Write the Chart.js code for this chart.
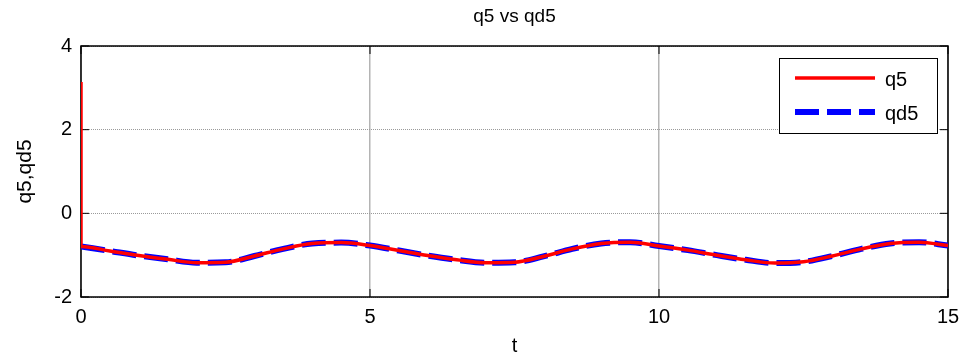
<!DOCTYPE html>
<html>
<head>
<meta charset="utf-8">
<script src="https://cdn.jsdelivr.net/npm/chart.js@4/dist/chart.umd.min.js"></script>
<style>
  html, body { margin: 0; padding: 0; background: #fff; }
  #wrap { width: 968px; height: 360px; }
</style>
</head>
<body>
<div id="wrap"><canvas id="chart" width="968" height="360"></canvas></div>
<script>
// time samples and values
const tValues = [0, 0.5, 1, 1.5, 2, 2.5, 3, 3.5, 4, 4.5, 5, 5.5, 6, 6.5, 7, 7.5,
  8, 8.5, 9, 9.5, 10, 10.5, 11, 11.5, 12, 12.5, 13, 13.5, 14, 14.5, 15];
const qd5Values = [-0.79, -0.90, -1.01, -1.10, -1.18, -1.17, -1.02, -0.85, -0.72, -0.70,
  -0.77, -0.89, -1.01, -1.11, -1.18, -1.17, -1.03, -0.85, -0.72, -0.69,
  -0.78, -0.88, -1.00, -1.11, -1.19, -1.16, -1.02, -0.85, -0.72, -0.69, -0.77];
const q5Start = 3.14; // q5 begins here at t = 0, then jumps onto qd5
const xTicks = [0, 5, 10, 15];
const yTicks = [-2, 0, 2, 4];

const qd5Points = tValues.map((t, i) => ({ x: t, y: qd5Values[i] }));
const q5Points = [{ x: 0, y: q5Start }].concat(qd5Points);

const FONT = 'Arial, "Liberation Sans", sans-serif';

// box + inward ticks, matlab style
const axesBox = {
  id: 'axesBox',
  beforeDatasetsDraw(chart) {
    const { ctx, chartArea: a, scales } = chart;
    ctx.save();
    ctx.strokeStyle = '#000';
    ctx.lineWidth = 1.5;
    ctx.strokeRect(a.left, a.top, a.right - a.left, a.bottom - a.top);
    ctx.lineWidth = 1;
    xTicks.forEach(v => {
      const x = scales.x.getPixelForValue(v);
      ctx.beginPath();
      ctx.moveTo(x, a.bottom); ctx.lineTo(x, a.bottom - 8);
      ctx.moveTo(x, a.top); ctx.lineTo(x, a.top + 8);
      ctx.stroke();
    });
    yTicks.forEach(v => {
      const y = scales.y.getPixelForValue(v);
      ctx.beginPath();
      ctx.moveTo(a.left, y); ctx.lineTo(a.left + 8, y);
      ctx.moveTo(a.right, y); ctx.lineTo(a.right - 8, y);
      ctx.stroke();
    });
    ctx.restore();
  }
};

// legend box in the top right corner
const boxLegend = {
  id: 'boxLegend',
  afterDraw(chart) {
    const { ctx, chartArea: a } = chart;
    const x0 = a.right - 169, y0 = a.top + 12, w = 158, h = 75;
    ctx.save();
    ctx.fillStyle = '#fff';
    ctx.fillRect(x0, y0, w, h);
    ctx.strokeStyle = '#000';
    ctx.lineWidth = 1;
    ctx.strokeRect(x0 + 0.5, y0 + 0.5, w, h);
    ctx.font = '20px ' + FONT;
    ctx.textBaseline = 'middle';
    ctx.fillStyle = '#000';
    chart.data.datasets.forEach((ds, i) => {
      const y = y0 + 20 + i * 34;
      ctx.beginPath();
      ctx.strokeStyle = ds.borderColor;
      ctx.lineWidth = ds.borderWidth;
      ctx.setLineDash(ds.borderDash || []);
      ctx.moveTo(x0 + 16, y);
      ctx.lineTo(x0 + 96, y);
      ctx.stroke();
      ctx.setLineDash([]);
      ctx.fillText(ds.label, x0 + 106, y + 2);
    });
    ctx.restore();
  }
};

new Chart(document.getElementById('chart'), {
  type: 'line',
  data: {
    datasets: [
      {
        label: 'q5',
        data: q5Points,
        borderColor: '#ff0000',
        borderWidth: 3.5,
        pointRadius: 0,
        cubicInterpolationMode: 'monotone'
      },
      {
        label: 'qd5',
        data: qd5Points,
        borderColor: '#0000ff',
        borderWidth: 6,
        borderDash: [24, 8],
        borderCapStyle: 'butt',
        pointRadius: 0,
        cubicInterpolationMode: 'monotone'
      }
    ]
  },
  options: {
    responsive: false,
    animation: false,
    layout: { padding: { top: 0, right: 20, bottom: 0, left: 0 } },
    plugins: {
      legend: { display: false },
      tooltip: { enabled: false },
      title: {
        display: true,
        fullSize: false,
        text: 'q5 vs qd5',
        color: '#000',
        font: { family: FONT, size: 19, weight: 'normal' },
        padding: { top: 5, bottom: 18.2 }
      }
    },
    scales: {
      x: {
        type: 'linear',
        min: 0, max: 15,
        afterFit(s) { s.height = 63; },
        afterBuildTicks(s) { s.ticks = xTicks.map(v => ({ value: v })); },
        ticks: { color: '#000', font: { family: FONT, size: 20 }, padding: 8, maxRotation: 0 },
        grid: { color: '#b4b4b4', lineWidth: 1.5, drawTicks: false },
        border: { display: false },
        title: { display: true, text: 't', color: '#000', font: { family: FONT, size: 20 }, padding: { top: 0, bottom: 2 } }
      },
      y: {
        type: 'linear',
        min: -2, max: 4,
        afterFit(s) { s.width = 81; },
        afterBuildTicks(s) { s.ticks = yTicks.map(v => ({ value: v })); },
        ticks: { color: '#000', font: { family: FONT, size: 20 }, padding: 9 },
        grid: { color: '#9a9a9a', lineWidth: 1, drawTicks: false },
        border: { display: false, dash: [1, 1] },
        title: { display: true, text: 'q5,qd5', color: '#000', font: { family: FONT, size: 21 }, padding: { top: 13, bottom: 0 } }
      }
    }
  },
  plugins: [axesBox, boxLegend]
});
</script>
</body>
</html>
